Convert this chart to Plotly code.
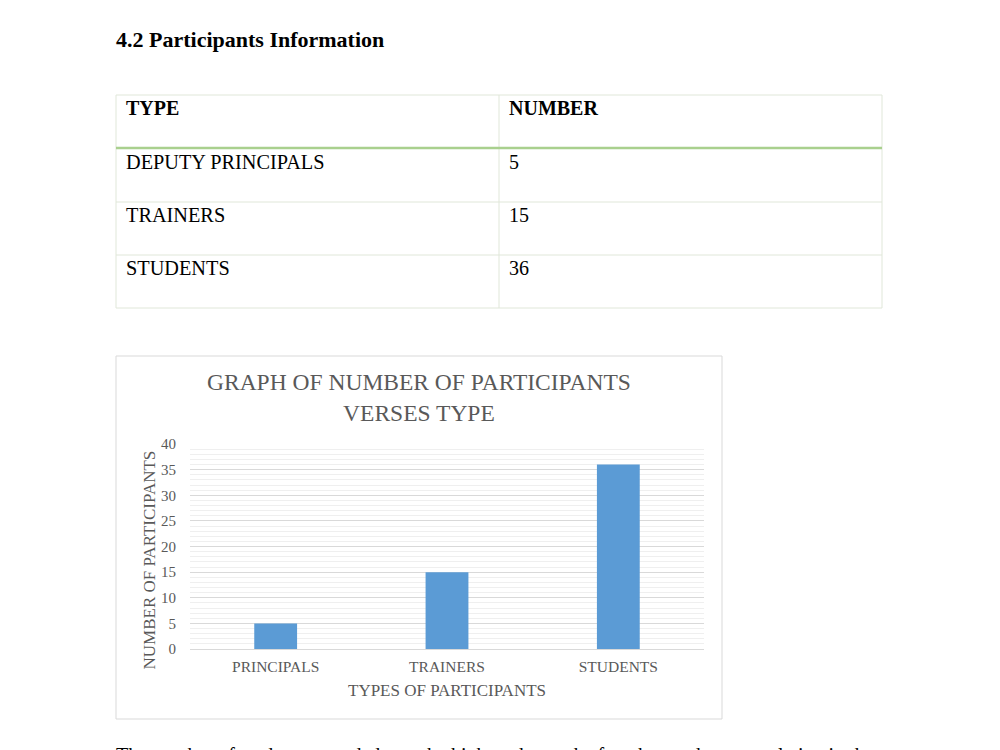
import plotly.graph_objects as go

# ---- data ----
table_types = ["DEPUTY PRINCIPALS", "TRAINERS", "STUDENTS"]
table_numbers = [5, 15, 36]
chart_categories = ["PRINCIPALS", "TRAINERS", "STUDENTS"]
chart_values = [5, 15, 36]
y_ticks = [0, 5, 10, 15, 20, 25, 30, 35, 40]

W, H = 1000, 750
SERIF = "Liberation Serif, Times New Roman, serif"


def px(x):
    return x / W


def py(y):
    return 1 - y / H


fig = go.Figure()

fig.add_trace(go.Bar(
    x=chart_categories, y=chart_values,
    marker=dict(color="#5b9bd5", line=dict(width=0)),
    width=0.25, hoverinfo="skip",
))

shapes = []
annotations = []


def note(text, x, y, size, color="#000000", xanchor="left", yanchor="middle", angle=0):
    annotations.append(dict(text=text, x=px(x), y=py(y), xref="paper", yref="paper",
                            xanchor=xanchor, yanchor=yanchor, showarrow=False,
                            borderpad=0, textangle=angle,
                            font=dict(family=SERIF, size=size, color=color)))


# ---- table ----
tl, tr, tt, tb = 116, 882, 95, 308
col = 499
row_lines = [148, 202, 255]
bc = "#e0e7d9"
shapes.append(dict(type="rect", xref="paper", yref="paper", x0=px(tl), x1=px(tr),
                   y0=py(tb), y1=py(tt), line=dict(color=bc, width=1), layer="below"))
shapes.append(dict(type="line", xref="paper", yref="paper", x0=px(col), x1=px(col),
                   y0=py(tb), y1=py(tt), line=dict(color=bc, width=1), layer="below"))
for i, ry in enumerate(row_lines):
    if i == 0:
        shapes.append(dict(type="line", xref="paper", yref="paper", x0=px(tl), x1=px(tr),
                           y0=py(ry), y1=py(ry), line=dict(color="#a9d08e", width=2.5)))
    else:
        shapes.append(dict(type="line", xref="paper", yref="paper", x0=px(tl), x1=px(tr),
                           y0=py(ry), y1=py(ry), line=dict(color=bc, width=1)))

note("<b>TYPE</b>", 125, 108, 20)
note("<b>NUMBER</b>", 508, 108, 20)
row_text_y = [162, 215, 268]
for t, n, ry in zip(table_types, table_numbers, row_text_y):
    note(t, 125, ry, 20.3)
    note(str(n), 508, ry, 20)

# heading
note("<b>4.2 Participants Information</b>", 115, 39.5, 22)

# ---- chart frame ----
shapes.append(dict(type="rect", xref="paper", yref="paper", x0=px(116), x1=px(722),
                   y0=py(719), y1=py(356), line=dict(color="#d9d9d9", width=1), layer="below"))

gray = "#595959"
note("GRAPH OF NUMBER OF PARTICIPANTS<br>VERSES TYPE", 419, 397, 23.5, gray, xanchor="center")
note("TYPES OF PARTICIPANTS", 447, 690, 17, gray, xanchor="center")
note("NUMBER OF PARTICIPANTS", 148.5, 560, 17, gray, xanchor="center", angle=-90)

# bottom paragraph (cut off by page edge)
note("The number of students recorded was the highest due to the fact that students population in the",
     115, 755, 20)

fig.update_layout(
    width=W, height=H,
    margin=dict(l=0, r=0, t=0, b=0, pad=0, autoexpand=False),
    paper_bgcolor="white", plot_bgcolor="white",
    showlegend=False,
    shapes=shapes, annotations=annotations,
    xaxis=dict(
        domain=[px(190), px(704)],
        showgrid=False, showline=True, linecolor="#d9d9d9", linewidth=1,
        ticks="", ticklabelstandoff=3,
        tickfont=dict(family=SERIF, size=15.5, color=gray),
        automargin=False, fixedrange=True,
    ),
    yaxis=dict(
        domain=[py(649), py(444)],
        range=[0, 40], tickvals=y_ticks,
        showgrid=True, gridcolor="#d9d9d9", gridwidth=1,
        minor=dict(dtick=1, showgrid=True, gridcolor="#efefef", gridwidth=1),
        zeroline=False, showline=False,
        ticks="", ticklabelstandoff=13,
        tickfont=dict(family=SERIF, size=15, color=gray),
        automargin=False, fixedrange=True,
    ),
)

fig.write_html("out.html")
